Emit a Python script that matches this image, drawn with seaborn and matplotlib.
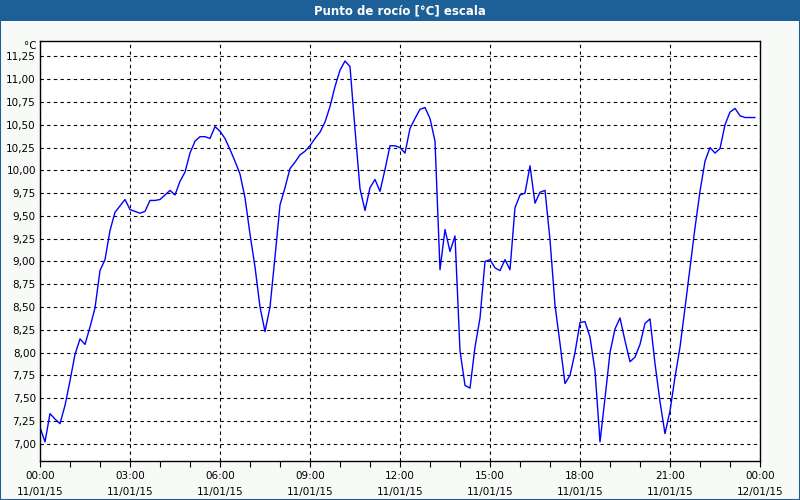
import matplotlib
matplotlib.use("Agg")
import matplotlib.pyplot as plt
import seaborn as sns
import pandas as pd
from matplotlib.ticker import FixedLocator, MultipleLocator
from matplotlib.patches import Rectangle

# ---- data (10-minute readings, 11/01/15) ----
times = [
    "00:00", "00:10", "00:20", "00:30", "00:40", "00:50",
    "01:00", "01:10", "01:20", "01:30", "01:40", "01:50",
    "02:00", "02:10", "02:20", "02:30", "02:40", "02:50",
    "03:00", "03:10", "03:20", "03:30", "03:40", "03:50",
    "04:00", "04:10", "04:20", "04:30", "04:40", "04:50",
    "05:00", "05:10", "05:20", "05:30", "05:40", "05:50",
    "06:00", "06:10", "06:20", "06:30", "06:40", "06:50",
    "07:00", "07:10", "07:20", "07:30", "07:40", "07:50",
    "08:00", "08:10", "08:20", "08:30", "08:40", "08:50",
    "09:00", "09:10", "09:20", "09:30", "09:40", "09:50",
    "10:00", "10:10", "10:20", "10:30", "10:40", "10:50",
    "11:00", "11:10", "11:20", "11:30", "11:40", "11:50",
    "12:00", "12:10", "12:20", "12:30", "12:40", "12:50",
    "13:00", "13:10", "13:20", "13:30", "13:40", "13:50",
    "14:00", "14:10", "14:20", "14:30", "14:40", "14:50",
    "15:00", "15:10", "15:20", "15:30", "15:40", "15:50",
    "16:00", "16:10", "16:20", "16:30", "16:40", "16:50",
    "17:00", "17:10", "17:20", "17:30", "17:40", "17:50",
    "18:00", "18:10", "18:20", "18:30", "18:40", "18:50",
    "19:00", "19:10", "19:20", "19:30", "19:40", "19:50",
    "20:00", "20:10", "20:20", "20:30", "20:40", "20:50",
    "21:00", "21:10", "21:20", "21:30", "21:40", "21:50",
    "22:00", "22:10", "22:20", "22:30", "22:40", "22:50",
    "23:00", "23:10", "23:20", "23:30", "23:40", "23:50",
]
dew_point = [
    7.18, 7.02, 7.33, 7.27, 7.22, 7.42,
    7.69, 7.98, 8.15, 8.09, 8.28, 8.49,
    8.90, 9.02, 9.34, 9.54, 9.61, 9.68,
    9.57, 9.55, 9.53, 9.55, 9.67, 9.67,
    9.68, 9.73, 9.78, 9.73, 9.88, 9.98,
    10.19, 10.32, 10.37, 10.37, 10.35, 10.48,
    10.43, 10.35, 10.23, 10.10, 9.96, 9.70,
    9.30, 8.94, 8.50, 8.23, 8.50, 9.05,
    9.62, 9.81, 10.02, 10.09, 10.17, 10.21,
    10.27, 10.35, 10.42, 10.53, 10.70, 10.92,
    11.10, 11.20, 11.14, 10.45, 9.80, 9.56,
    9.81, 9.90, 9.77, 10.01, 10.27, 10.27,
    10.25, 10.19, 10.46, 10.57, 10.67, 10.69,
    10.57, 10.32, 8.91, 9.35, 9.11, 9.28,
    8.02, 7.64, 7.61, 8.06, 8.38, 9.00,
    9.02, 8.93, 8.90, 9.02, 8.91, 9.59,
    9.73, 9.75, 10.05, 9.64, 9.76, 9.78,
    9.24, 8.52, 8.10, 7.66, 7.75, 8.00,
    8.33, 8.34, 8.17, 7.80, 7.02, 7.50,
    8.00, 8.26, 8.38, 8.13, 7.90, 7.95,
    8.09, 8.32, 8.37, 7.88, 7.46, 7.11,
    7.36, 7.73, 8.06, 8.49, 8.93, 9.37,
    9.77, 10.10, 10.25, 10.19, 10.24, 10.50,
    10.64, 10.68, 10.60, 10.58, 10.58, 10.58,
]
tick_labels = [
    "00:00\n11/01/15", "03:00\n11/01/15", "06:00\n11/01/15",
    "09:00\n11/01/15", "12:00\n11/01/15", "15:00\n11/01/15",
    "18:00\n11/01/15", "21:00\n11/01/15", "00:00\n12/01/15",
]
y_ticks = [7.00, 7.25, 7.50, 7.75, 8.00, 8.25, 8.50, 8.75, 9.00,
           9.25, 9.50, 9.75, 10.00, 10.25, 10.50, 10.75, 11.00, 11.25]
title = "Punto de rocío [°C] escala"
unit = "°C"

# ---- build frame ----
hours = [int(t[:2]) + int(t[3:]) / 60 for t in times]
df = pd.DataFrame({"hour": hours, "value": dew_point})

sns.set_theme(style="white")
plt.rcParams["font.family"] = ["DejaVu Sans"]

fig = plt.figure(figsize=(8, 5), dpi=100)
fig.patch.set_facecolor("#f7faf7")

# title bar + frame
bar_color = "#1d5f97"
fig.patches.append(Rectangle((0, 1 - 21 / 500), 1, 21 / 500, transform=fig.transFigure,
                             facecolor=bar_color, edgecolor="none", zorder=0))
fig.patches.append(Rectangle((0.0006, 0.001), 0.9988, 0.998, transform=fig.transFigure,
                             facecolor="none", edgecolor=bar_color, linewidth=1.5, zorder=5))
fig.text(0.5, 1 - 10.5 / 500, title, color="white", fontsize=8.5, fontweight="bold",
         ha="center", va="center")

ax = fig.add_axes([40 / 800, 1 - 461 / 500, 720 / 800, 420 / 500])
ax.set_facecolor("white")

sns.lineplot(data=df, x="hour", y="value", ax=ax, color="#0000ff", linewidth=1.0,
             estimator=None, sort=False)

ax.set_xlim(0, 24)
ax.set_ylim(6.81, 11.42)

ax.xaxis.set_major_locator(FixedLocator([0, 3, 6, 9, 12, 15, 18, 21, 24]))
ax.set_xticklabels(tick_labels, fontsize=7.5, linespacing=1.75)
ax.xaxis.set_minor_locator(MultipleLocator(1))
ax.yaxis.set_major_locator(FixedLocator(y_ticks))
ax.set_yticklabels([f"{v:.2f}".replace(".", ",") for v in y_ticks], fontsize=7.5)

ax.tick_params(axis="x", which="both", direction="out", length=4, width=0.8,
               color="black", labelcolor="black", bottom=True, pad=3)
ax.tick_params(axis="y", which="both", length=0, pad=3, labelcolor="black")

ax.grid(True, which="major", axis="both", color="black", linestyle=(0, (3, 3)),
        linewidth=0.8)
ax.set_axisbelow(True)
for s in ax.spines.values():
    s.set_color("black")
    s.set_linewidth(1.0)

ax.set_xlabel("")
ax.set_ylabel("")
ax.text(-0.004, 1.0, unit, transform=ax.transAxes, ha="right", va="top", fontsize=7.5,
        color="black")

fig.savefig("out.png", dpi=100, facecolor=fig.get_facecolor())
